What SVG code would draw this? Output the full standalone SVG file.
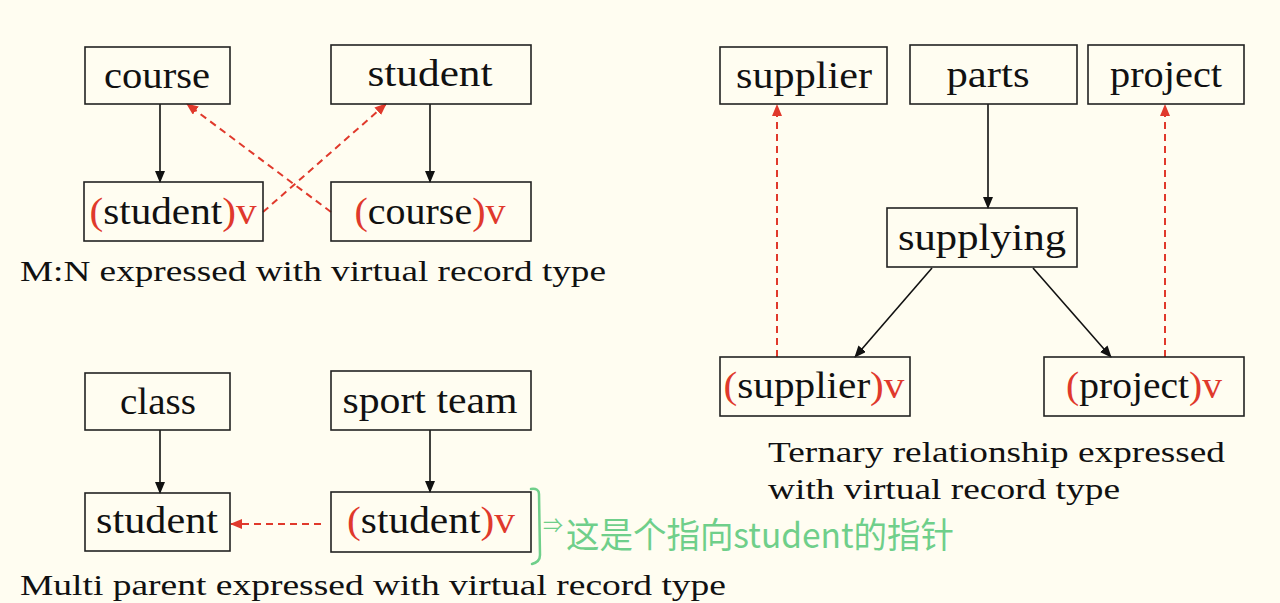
<svg xmlns="http://www.w3.org/2000/svg" width="1280" height="603" viewBox="0 0 1280 603">
<defs>
<marker id="ah" markerUnits="userSpaceOnUse" markerWidth="12" markerHeight="10" refX="11" refY="5" orient="auto"><path d="M0,0 L12,5 L0,10 z" fill="#111"/></marker>
<marker id="ahr" markerUnits="userSpaceOnUse" markerWidth="12" markerHeight="10" refX="11" refY="5" orient="auto"><path d="M0,0 L12,5 L0,10 z" fill="#e0392c"/></marker>
<style>
.box{fill:none;stroke:#222;stroke-width:1.6}
.t{font-family:"Liberation Serif",serif;font-size:38px;fill:#111;text-anchor:middle}
.cap{font-family:"Liberation Serif",serif;font-size:30px;fill:#111}
.r{fill:#e0392c}
.ln{stroke:#111;stroke-width:1.6;fill:none;marker-end:url(#ah)}
.dl{stroke:#e0392c;stroke-width:2;stroke-dasharray:7,5;fill:none;marker-end:url(#ahr)}
.hw{font-family:"Noto Sans CJK SC","Noto Sans",sans-serif;fill:#6fcf8a}
</style>
</defs>
<rect width="1280" height="603" fill="#fffdf1"/>
<g id="connectors">
<line class="ln" x1="160" y1="104" x2="160" y2="182"/>
<line class="ln" x1="430" y1="104" x2="430" y2="182"/>
<line class="dl" x1="263" y1="212" x2="386" y2="104"/>
<line class="dl" x1="331" y1="212" x2="187" y2="104"/>
<line class="ln" x1="988" y1="104" x2="988" y2="208"/>
<line class="ln" x1="932" y1="268" x2="855" y2="357"/>
<line class="ln" x1="1033" y1="268" x2="1111" y2="357"/>
<line class="dl" x1="777" y1="357" x2="777" y2="105"/>
<line class="dl" x1="1165" y1="357" x2="1165" y2="105"/>
<line class="ln" x1="160" y1="430" x2="160" y2="493"/>
<line class="ln" x1="430" y1="430" x2="430" y2="492"/>
<line class="dl" x1="321" y1="524" x2="231" y2="524"/>
</g>
<g id="n-course"><rect class="box" x="85" y="47" width="145" height="57"/><text class="t" x="157" y="88" textLength="106" lengthAdjust="spacingAndGlyphs">course</text></g>
<g id="n-student"><rect class="box" x="331" y="45" width="200" height="59"/><text class="t" x="430" y="86" textLength="125" lengthAdjust="spacingAndGlyphs">student</text></g>
<g id="n-studentv"><rect class="box" x="84" y="182" width="179" height="59"/><text class="t" x="173" y="224" textLength="167" lengthAdjust="spacingAndGlyphs"><tspan class="r">(</tspan>student<tspan class="r">)v</tspan></text></g>
<g id="n-coursev"><rect class="box" x="331" y="182" width="200" height="59"/><text class="t" x="430" y="224" textLength="151" lengthAdjust="spacingAndGlyphs"><tspan class="r">(</tspan>course<tspan class="r">)v</tspan></text></g>
<text class="cap" x="20" y="281" textLength="586" lengthAdjust="spacingAndGlyphs">M:N expressed with virtual record type</text>
<g id="n-supplier"><rect class="box" x="720" y="47" width="167" height="57"/><text class="t" x="804" y="88" textLength="136" lengthAdjust="spacingAndGlyphs">supplier</text></g>
<g id="n-parts"><rect class="box" x="910" y="45" width="167" height="59"/><text class="t" x="988" y="87" textLength="83" lengthAdjust="spacingAndGlyphs">parts</text></g>
<g id="n-project"><rect class="box" x="1088" y="45" width="156" height="59"/><text class="t" x="1166" y="87" textLength="112" lengthAdjust="spacingAndGlyphs">project</text></g>
<g id="n-supplying"><rect class="box" x="887" y="208" width="190" height="59"/><text class="t" x="982" y="250" textLength="168" lengthAdjust="spacingAndGlyphs">supplying</text></g>
<g id="n-supplierv"><rect class="box" x="720" y="357" width="190" height="59"/><text class="t" x="814" y="398" textLength="181" lengthAdjust="spacingAndGlyphs"><tspan class="r">(</tspan>supplier<tspan class="r">)v</tspan></text></g>
<g id="n-projectv"><rect class="box" x="1044" y="357" width="200" height="59"/><text class="t" x="1144" y="398" textLength="156" lengthAdjust="spacingAndGlyphs"><tspan class="r">(</tspan>project<tspan class="r">)v</tspan></text></g>
<text class="cap" x="768" y="462" textLength="457" lengthAdjust="spacingAndGlyphs">Ternary relationship expressed</text>
<text class="cap" x="768" y="499" textLength="352" lengthAdjust="spacingAndGlyphs">with virtual record type</text>
<g id="n-class"><rect class="box" x="85" y="373" width="145" height="57"/><text class="t" x="158" y="414" textLength="76" lengthAdjust="spacingAndGlyphs">class</text></g>
<g id="n-sportteam"><rect class="box" x="331" y="371" width="200" height="59"/><text class="t" x="430" y="413" textLength="175" lengthAdjust="spacingAndGlyphs">sport team</text></g>
<g id="n-student2"><rect class="box" x="85" y="493" width="145" height="58"/><text class="t" x="157" y="533" textLength="122" lengthAdjust="spacingAndGlyphs">student</text></g>
<g id="n-studentv2"><rect class="box" x="331" y="492" width="200" height="60"/><text class="t" x="431" y="533" textLength="168" lengthAdjust="spacingAndGlyphs"><tspan class="r">(</tspan>student<tspan class="r">)v</tspan></text></g>
<text class="cap" x="20" y="595" textLength="706" lengthAdjust="spacingAndGlyphs">Multi parent expressed with virtual record type</text>
<g id="annotation">
<path d="M531,489 Q539,488 539,494 L540,555 Q540,562 532,564" fill="none" stroke="#6fcf8a" stroke-width="2.5" stroke-linecap="round"/>
<text class="hw" x="543" y="533" font-size="20">⇒</text>
<text class="hw" x="566" y="548" font-size="35" textLength="388" lengthAdjust="spacingAndGlyphs">这是个指向student的指针</text>
</g>
</svg>
